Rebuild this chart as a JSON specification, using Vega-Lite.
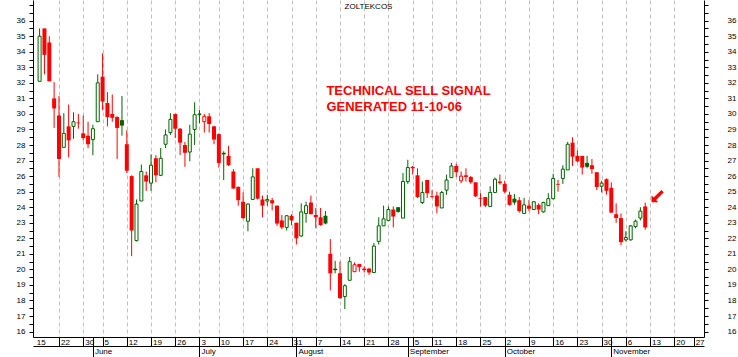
{
  "$schema": "https://vega.github.io/schema/vega-lite/v6.json",
  "width": 671,
  "height": 337,
  "autosize": {"type": "none"},
  "padding": {"left": 33, "top": 0, "right": 34, "bottom": 20},
  "background": "white",
  "config": {
    "view": {"stroke": null},
    "font": "Liberation Sans",
    "axis": {"domainColor": "black", "tickColor": "black", "labelColor": "black", "labelFont": "Liberation Sans", "labelFontSize": 8, "domainWidth": 1, "tickWidth": 1, "title": null, "labelOverlap": false, "labelBound": false, "labelFlush": false}
  },
  "title": {"text": "ZOLTEKCOS", "fontSize": 8, "fontWeight": "normal", "font": "Liberation Sans", "color": "black", "anchor": "middle", "baseline": "alphabetic", "offset": -17},
  "datasets": {
    "px": [
      {"d":"2006-05-16","day":1,"o":32.1,"h":35.5,"l":32.1,"c":35.0},
      {"d":"2006-05-17","day":2,"o":35.5,"h":35.5,"l":32.55,"c":33.8},
      {"d":"2006-05-18","day":3,"o":34.6,"h":35.0,"l":32.1,"c":32.1},
      {"d":"2006-05-19","day":4,"o":31.0,"h":32.05,"l":29.1,"c":30.35},
      {"d":"2006-05-22","day":5,"o":29.9,"h":31.15,"l":25.95,"c":27.1},
      {"d":"2006-05-23","day":6,"o":27.85,"h":30.05,"l":27.85,"c":28.75},
      {"d":"2006-05-24","day":7,"o":29.2,"h":30.6,"l":27.2,"c":28.3},
      {"d":"2006-05-25","day":8,"o":29.2,"h":30.1,"l":28.4,"c":29.5},
      {"d":"2006-05-26","day":9,"o":29.45,"h":30.0,"l":29.05,"c":29.4},
      {"d":"2006-05-30","day":10,"o":28.75,"h":29.9,"l":28.3,"c":28.45},
      {"d":"2006-05-31","day":11,"o":28.6,"h":29.5,"l":27.8,"c":28.05},
      {"d":"2006-06-01","day":12,"o":28.35,"h":29.3,"l":27.35,"c":29.05},
      {"d":"2006-06-02","day":13,"o":29.5,"h":32.55,"l":29.5,"c":32.0},
      {"d":"2006-06-05","day":14,"o":32.4,"h":33.9,"l":30.25,"c":30.8},
      {"d":"2006-06-06","day":15,"o":30.7,"h":31.4,"l":29.2,"c":29.8},
      {"d":"2006-06-07","day":16,"o":30.0,"h":31.25,"l":29.5,"c":29.75},
      {"d":"2006-06-08","day":17,"o":29.8,"h":29.85,"l":27.1,"c":29.1},
      {"d":"2006-06-09","day":18,"o":29.6,"h":31.15,"l":28.6,"c":29.25},
      {"d":"2006-06-12","day":19,"o":28.05,"h":28.95,"l":26.2,"c":26.35},
      {"d":"2006-06-13","day":20,"o":26.0,"h":26.05,"l":20.85,"c":22.5},
      {"d":"2006-06-14","day":21,"o":21.85,"h":24.5,"l":21.8,"c":24.2},
      {"d":"2006-06-15","day":22,"o":24.4,"h":26.75,"l":24.4,"c":26.3},
      {"d":"2006-06-16","day":23,"o":26.05,"h":26.3,"l":25.05,"c":25.65},
      {"d":"2006-06-19","day":24,"o":25.55,"h":27.4,"l":25.05,"c":26.7},
      {"d":"2006-06-20","day":25,"o":27.15,"h":27.35,"l":25.6,"c":26.05},
      {"d":"2006-06-21","day":26,"o":26.05,"h":27.8,"l":26.0,"c":27.15},
      {"d":"2006-06-22","day":27,"o":28.05,"h":29.0,"l":27.8,"c":28.65},
      {"d":"2006-06-23","day":28,"o":28.8,"h":30.05,"l":28.65,"c":29.65},
      {"d":"2006-06-26","day":29,"o":30.0,"h":30.0,"l":28.45,"c":29.05},
      {"d":"2006-06-27","day":30,"o":29.05,"h":29.1,"l":27.35,"c":28.15},
      {"d":"2006-06-28","day":31,"o":28.0,"h":28.2,"l":26.6,"c":27.5},
      {"d":"2006-06-29","day":32,"o":27.55,"h":29.3,"l":26.95,"c":28.7},
      {"d":"2006-06-30","day":33,"o":29.0,"h":30.75,"l":28.0,"c":29.95},
      {"d":"2006-07-03","day":34,"o":29.95,"h":30.25,"l":29.4,"c":30.0},
      {"d":"2006-07-05","day":35,"o":29.5,"h":30.0,"l":28.8,"c":29.85},
      {"d":"2006-07-06","day":36,"o":29.85,"h":30.05,"l":28.8,"c":29.35},
      {"d":"2006-07-07","day":37,"o":29.2,"h":29.25,"l":28.05,"c":28.35},
      {"d":"2006-07-10","day":38,"o":28.7,"h":28.75,"l":26.55,"c":26.85},
      {"d":"2006-07-11","day":39,"o":27.5,"h":27.6,"l":25.75,"c":27.4},
      {"d":"2006-07-12","day":40,"o":27.3,"h":27.95,"l":26.65,"c":26.7},
      {"d":"2006-07-13","day":41,"o":26.3,"h":26.45,"l":25.2,"c":25.2},
      {"d":"2006-07-14","day":42,"o":25.3,"h":25.35,"l":24.1,"c":24.45},
      {"d":"2006-07-17","day":43,"o":24.35,"h":24.95,"l":23.25,"c":23.3},
      {"d":"2006-07-18","day":44,"o":23.1,"h":24.25,"l":22.45,"c":24.2},
      {"d":"2006-07-19","day":45,"o":24.5,"h":26.5,"l":24.5,"c":25.95},
      {"d":"2006-07-20","day":46,"o":26.5,"h":26.5,"l":24.5,"c":24.55},
      {"d":"2006-07-21","day":47,"o":24.5,"h":24.75,"l":23.35,"c":24.1},
      {"d":"2006-07-24","day":48,"o":24.4,"h":24.8,"l":24.1,"c":24.5},
      {"d":"2006-07-25","day":49,"o":24.45,"h":24.6,"l":23.8,"c":24.25},
      {"d":"2006-07-26","day":50,"o":24.1,"h":24.1,"l":22.8,"c":22.95},
      {"d":"2006-07-27","day":51,"o":23.15,"h":23.5,"l":22.6,"c":22.7},
      {"d":"2006-07-28","day":52,"o":22.7,"h":23.5,"l":22.5,"c":23.45},
      {"d":"2006-07-31","day":53,"o":23.45,"h":23.55,"l":22.85,"c":23.15},
      {"d":"2006-08-01","day":54,"o":23.0,"h":23.0,"l":21.6,"c":22.0},
      {"d":"2006-08-02","day":55,"o":22.15,"h":24.25,"l":22.1,"c":23.7},
      {"d":"2006-08-03","day":56,"o":23.6,"h":24.35,"l":23.0,"c":24.1},
      {"d":"2006-08-04","day":57,"o":24.3,"h":24.75,"l":23.55,"c":23.55},
      {"d":"2006-08-07","day":58,"o":23.5,"h":23.95,"l":22.65,"c":23.35},
      {"d":"2006-08-08","day":59,"o":23.35,"h":23.95,"l":22.8,"c":22.85},
      {"d":"2006-08-09","day":60,"o":23.45,"h":23.75,"l":22.9,"c":22.95},
      {"d":"2006-08-10","day":61,"o":21.0,"h":21.95,"l":18.65,"c":19.75},
      {"d":"2006-08-11","day":62,"o":20.05,"h":20.55,"l":19.75,"c":19.95},
      {"d":"2006-08-14","day":63,"o":19.75,"h":20.5,"l":18.1,"c":18.15},
      {"d":"2006-08-15","day":64,"o":18.25,"h":19.05,"l":17.45,"c":18.95},
      {"d":"2006-08-16","day":65,"o":19.3,"h":20.8,"l":19.25,"c":20.5},
      {"d":"2006-08-17","day":66,"o":19.85,"h":20.45,"l":19.85,"c":20.3},
      {"d":"2006-08-18","day":67,"o":20.35,"h":20.35,"l":19.85,"c":20.15},
      {"d":"2006-08-21","day":68,"o":20.05,"h":20.2,"l":19.8,"c":19.95},
      {"d":"2006-08-22","day":69,"o":20.05,"h":20.1,"l":19.65,"c":19.8},
      {"d":"2006-08-23","day":70,"o":19.8,"h":21.7,"l":19.8,"c":21.5},
      {"d":"2006-08-24","day":71,"o":21.8,"h":23.35,"l":21.6,"c":22.8},
      {"d":"2006-08-25","day":72,"o":22.8,"h":24.1,"l":22.8,"c":23.25},
      {"d":"2006-08-28","day":73,"o":23.15,"h":24.05,"l":23.1,"c":23.85},
      {"d":"2006-08-29","day":74,"o":23.85,"h":24.05,"l":22.7,"c":23.4},
      {"d":"2006-08-30","day":75,"o":24.0,"h":24.0,"l":23.65,"c":23.7},
      {"d":"2006-08-31","day":76,"o":23.3,"h":26.2,"l":23.3,"c":25.65},
      {"d":"2006-09-01","day":77,"o":25.65,"h":27.05,"l":25.5,"c":26.55},
      {"d":"2006-09-05","day":78,"o":26.6,"h":26.65,"l":26.1,"c":26.5},
      {"d":"2006-09-06","day":79,"o":26.05,"h":26.5,"l":24.6,"c":24.65},
      {"d":"2006-09-07","day":80,"o":24.3,"h":25.65,"l":24.2,"c":24.95},
      {"d":"2006-09-08","day":81,"o":25.75,"h":25.75,"l":24.6,"c":24.9},
      {"d":"2006-09-11","day":82,"o":24.7,"h":25.1,"l":24.6,"c":24.65},
      {"d":"2006-09-12","day":83,"o":24.75,"h":25.0,"l":23.6,"c":24.05},
      {"d":"2006-09-13","day":84,"o":23.95,"h":25.05,"l":23.95,"c":24.95},
      {"d":"2006-09-14","day":85,"o":25.1,"h":26.1,"l":24.8,"c":25.75},
      {"d":"2006-09-15","day":86,"o":25.9,"h":26.85,"l":25.9,"c":26.65},
      {"d":"2006-09-18","day":87,"o":26.65,"h":26.8,"l":25.95,"c":26.25},
      {"d":"2006-09-19","day":88,"o":25.7,"h":26.3,"l":25.55,"c":26.0},
      {"d":"2006-09-20","day":89,"o":26.05,"h":26.5,"l":25.65,"c":25.95},
      {"d":"2006-09-21","day":90,"o":25.95,"h":26.0,"l":25.5,"c":25.6},
      {"d":"2006-09-22","day":91,"o":25.6,"h":25.6,"l":24.65,"c":24.7},
      {"d":"2006-09-25","day":92,"o":24.6,"h":24.9,"l":24.05,"c":24.55},
      {"d":"2006-09-26","day":93,"o":24.65,"h":24.65,"l":24.0,"c":24.1},
      {"d":"2006-09-27","day":94,"o":24.05,"h":25.35,"l":24.05,"c":24.95},
      {"d":"2006-09-28","day":95,"o":24.95,"h":25.9,"l":24.95,"c":25.8},
      {"d":"2006-09-29","day":96,"o":25.65,"h":26.1,"l":25.45,"c":25.55},
      {"d":"2006-10-02","day":97,"o":25.5,"h":25.7,"l":24.9,"c":25.0},
      {"d":"2006-10-03","day":98,"o":24.8,"h":25.0,"l":24.1,"c":24.15},
      {"d":"2006-10-04","day":99,"o":24.55,"h":24.85,"l":24.15,"c":24.3},
      {"d":"2006-10-05","day":100,"o":24.45,"h":24.65,"l":23.65,"c":23.75},
      {"d":"2006-10-06","day":101,"o":23.6,"h":24.6,"l":23.6,"c":24.15},
      {"d":"2006-10-09","day":102,"o":24.1,"h":24.45,"l":23.75,"c":23.9},
      {"d":"2006-10-10","day":103,"o":23.85,"h":24.4,"l":23.85,"c":24.35},
      {"d":"2006-10-11","day":104,"o":24.15,"h":24.25,"l":23.55,"c":23.85},
      {"d":"2006-10-12","day":105,"o":23.7,"h":24.35,"l":23.65,"c":24.3},
      {"d":"2006-10-13","day":106,"o":24.1,"h":24.9,"l":24.1,"c":24.55},
      {"d":"2006-10-16","day":107,"o":24.55,"h":26.15,"l":24.5,"c":25.85},
      {"d":"2006-10-17","day":108,"o":25.5,"h":25.75,"l":25.0,"c":25.45},
      {"d":"2006-10-18","day":109,"o":25.85,"h":26.7,"l":25.5,"c":26.45},
      {"d":"2006-10-19","day":110,"o":26.4,"h":28.2,"l":26.4,"c":28.05},
      {"d":"2006-10-20","day":111,"o":28.15,"h":28.5,"l":26.65,"c":27.25},
      {"d":"2006-10-23","day":112,"o":27.3,"h":27.65,"l":26.9,"c":26.95},
      {"d":"2006-10-24","day":113,"o":27.3,"h":27.3,"l":26.1,"c":26.55},
      {"d":"2006-10-25","day":114,"o":26.85,"h":27.3,"l":26.5,"c":26.6},
      {"d":"2006-10-26","day":115,"o":26.7,"h":27.1,"l":26.15,"c":26.45},
      {"d":"2006-10-27","day":116,"o":26.25,"h":26.25,"l":25.1,"c":25.3},
      {"d":"2006-10-30","day":117,"o":25.35,"h":25.7,"l":24.95,"c":25.55},
      {"d":"2006-10-31","day":118,"o":25.8,"h":25.85,"l":24.8,"c":25.05},
      {"d":"2006-11-01","day":119,"o":25.25,"h":25.6,"l":23.65,"c":23.65},
      {"d":"2006-11-02","day":120,"o":23.55,"h":24.25,"l":23.0,"c":23.3},
      {"d":"2006-11-03","day":121,"o":23.3,"h":23.6,"l":21.55,"c":21.75},
      {"d":"2006-11-06","day":122,"o":21.9,"h":22.45,"l":21.8,"c":22.05},
      {"d":"2006-11-07","day":123,"o":21.9,"h":22.85,"l":21.85,"c":22.8},
      {"d":"2006-11-08","day":124,"o":22.75,"h":23.2,"l":22.65,"c":23.1},
      {"d":"2006-11-09","day":125,"o":23.3,"h":24.0,"l":23.15,"c":23.75},
      {"d":"2006-11-10","day":126,"o":24.05,"h":24.3,"l":22.55,"c":22.7}
    ],
    "notes": [
      {"day": 60.2, "price": 31.22, "text": "TECHNICAL SELL SIGNAL"},
      {"day": 60.2, "price": 30.21, "text": "GENERATED 11-10-06"}
    ],
    "signal": [
      {"day": 128.57, "price": 24.72}
    ]
  },
  "layer": [
    {
      "data": {"name": "px"},
      "transform": [
        {"window": [{"op": "lag", "field": "c", "as": "pc"}], "sort": [{"field": "day", "order": "ascending"}]},
        {"calculate": "datum.pc == null || datum.c >= datum.pc ? 'up' : 'down'", "as": "dir"}
      ],
      "mark": {"type": "rule", "strokeWidth": 1},
      "encoding": {
        "x": {"field": "day", "type": "quantitative",
              "scale": {"domain": [0.67, 137.1], "nice": false, "zero": false},
              "axis": {"orient": "bottom", "values": [5,10,14,19,24,29,34,38,43,48,53,58,63,68,73,78,82,87,92,97,102,107,112,117,122,127,132],
                       "grid": true, "gridColor": "#c0c0c0", "gridDash": [4, 3], "gridWidth": 1,
                       "labels": false, "ticks": false, "domain": false}},
        "y": {"field": "l", "type": "quantitative",
              "scale": {"domain": [15.65, 37.33], "nice": false, "zero": false},
              "axis": {"orient": "left", "values": [16,16.5,17,17.5,18,18.5,19,19.5,20,20.5,21,21.5,22,22.5,23,23.5,24,24.5,25,25.5,26,26.5,27,27.5,28,28.5,29,29.5,30,30.5,31,31.5,32,32.5,33,33.5,34,34.5,35,35.5,36,36.5,37],
                       "labelExpr": "datum.value % 1 == 0 && datum.value <= 36 ? format(datum.value, 'd') : ''",
                       "tickSize": 4, "labelPadding": 4, "grid": false, "domain": true}},
        "y2": {"field": "h"},
        "color": {"field": "dir", "type": "nominal", "scale": {"domain": ["up", "down"], "range": ["#006400", "#ff0000"]}, "legend": null}
      }
    },
    {
      "data": {"name": "px"},
      "transform": [
        {"window": [{"op": "lag", "field": "c", "as": "pc"}], "sort": [{"field": "day", "order": "ascending"}]},
        {"calculate": "datum.pc == null || datum.c >= datum.pc ? 'up' : 'down'", "as": "dir"},
        {"filter": "datum.c <= datum.o"}
      ],
      "mark": {"type": "bar", "size": 4},
      "encoding": {
        "x": {"field": "day", "type": "quantitative",
              "scale": {"domain": [0.67, 137.1], "nice": false, "zero": false},
              "axis": {"orient": "bottom", "values": [0,5,10,12,14,19,24,29,34,38,43,48,53,54,58,63,68,73,77,78,82,87,92,97,102,107,112,117,119,122,127,132,136],
                       "labelExpr": "['15','22','30','','5','12','19','26','3','10','17','24','31','','7','14','21','28','','5','11','18','25','2','9','16','23','30','','6','13','20','27'][indexof([0,5,10,12,14,19,24,29,34,38,43,48,53,54,58,63,68,73,77,78,82,87,92,97,102,107,112,117,119,122,127,132,136], datum.value)]",
                       "tickSize": 9, "labelPadding": -8, "labelAlign": "left", "labelBaseline": "top", "labelOffset": 1.5,
                       "tickColor": {"condition": {"test": "datum.value < 1", "value": "transparent"}, "value": "black"},
                       "grid": false, "domain": true}},
        "y": {"field": "o", "type": "quantitative",
              "scale": {"domain": [15.65, 37.33], "nice": false, "zero": false},
              "axis": {"orient": "right", "values": [16,16.5,17,17.5,18,18.5,19,19.5,20,20.5,21,21.5,22,22.5,23,23.5,24,24.5,25,25.5,26,26.5,27,27.5,28,28.5,29,29.5,30,30.5,31,31.5,32,32.5,33,33.5,34,34.5,35,35.5,36,36.5,37],
                       "labelExpr": "datum.value % 1 == 0 && datum.value <= 36 ? format(datum.value, 'd') : ''",
                       "tickSize": 4, "labelPadding": 19, "labelAlign": "left", "grid": false, "domain": true}},
        "y2": {"field": "c"},
        "color": {"field": "dir", "type": "nominal", "scale": {"domain": ["up", "down"], "range": ["#006400", "#ff0000"]}, "legend": null}
      }
    },
    {
      "data": {"name": "px"},
      "transform": [
        {"window": [{"op": "lag", "field": "c", "as": "pc"}], "sort": [{"field": "day", "order": "ascending"}]},
        {"calculate": "datum.pc == null || datum.c >= datum.pc ? 'up' : 'down'", "as": "dir"},
        {"filter": "datum.c > datum.o"}
      ],
      "mark": {"type": "bar", "size": 3, "fill": "white", "strokeWidth": 1},
      "encoding": {
        "x": {"field": "day", "type": "quantitative",
              "scale": {"domain": [0.67, 137.1], "nice": false, "zero": false},
              "axis": {"orient": "bottom", "offset": 9, "values": [12,34,54,77,97,119],
                       "labelExpr": "['June','July','August','September','October','November'][indexof([12,34,54,77,97,119], datum.value)]",
                       "tickSize": 11, "labelPadding": -10, "labelAlign": "left", "labelBaseline": "top", "labelOffset": 1.5,
                       "grid": false, "domain": true}},
        "y": {"field": "o", "type": "quantitative", "scale": {"domain": [15.65, 37.33], "nice": false, "zero": false}, "axis": null},
        "y2": {"field": "c"},
        "stroke": {"field": "dir", "type": "nominal", "scale": {"domain": ["up", "down"], "range": ["#006400", "#ff0000"]}, "legend": null}
      }
    },
    {
      "data": {"name": "notes"},
      "mark": {"type": "text", "align": "left", "baseline": "alphabetic", "font": "Liberation Sans", "fontSize": 13, "fontWeight": "bold", "color": "#ff0000"},
      "encoding": {
        "x": {"field": "day", "type": "quantitative", "axis": null},
        "y": {"field": "price", "type": "quantitative", "axis": null},
        "text": {"field": "text"}
      }
    },
    {
      "data": {"name": "signal"},
      "mark": {"type": "point", "shape": "M-1,1L-1,-0.1L-0.648,0.252L0.602,-0.998L0.998,-0.602L-0.252,0.648L0.1,1Z", "filled": true, "color": "#ff0000", "opacity": 1, "size": 150, "strokeWidth": 0},
      "encoding": {
        "x": {"field": "day", "type": "quantitative", "axis": null},
        "y": {"field": "price", "type": "quantitative", "axis": null}
      }
    }
  ],
  "resolve": {"axis": {"x": "independent", "y": "independent"}}
}
